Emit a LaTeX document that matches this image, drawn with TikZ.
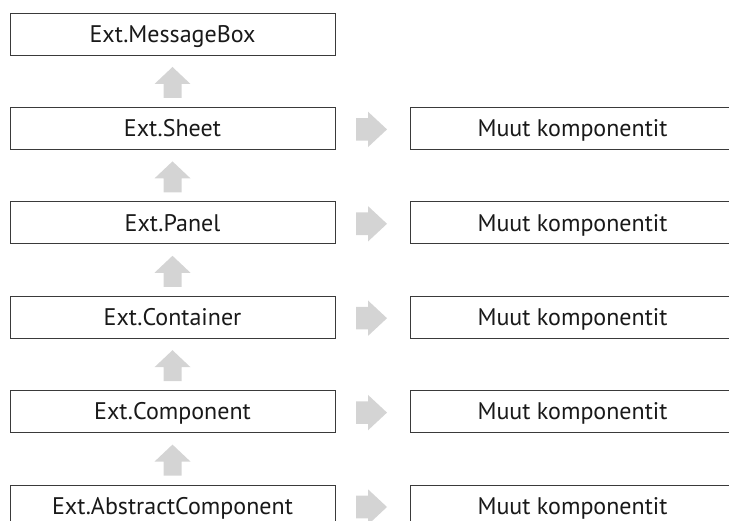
\documentclass[tikz,border=0pt]{standalone}
\usepackage{fontspec}
\setmainfont{PT Sans}
\usetikzlibrary{calc}
\definecolor{arrowgray}{HTML}{D4D4D4}
\definecolor{boxline}{HTML}{3A3A3A}
\begin{document}
\begin{tikzpicture}[x=1pt,y=-1pt,
  compbox/.style={draw=boxline, line width=0.9pt, fill=white,
    minimum width=325pt, minimum height=42pt, inner sep=0pt,
    text height=16.5pt, text depth=0pt,
    text=black!90, font=\fontsize{24}{28}\selectfont},
  uparrow/.style={fill=arrowgray},
  rightarrow/.style={fill=arrowgray}]
\useasboundingbox (0,0) rectangle (729,521);
\clip (0,0) rectangle (729,521);

% inheritance chain
\node[compbox] (mbox)  at (172.5,34)    {Ext.MessageBox};
\node[compbox] (sheet) at (172.5,128.4) {Ext.Sheet};
\node[compbox] (panel) at (172.5,222.8) {Ext.Panel};
\node[compbox] (cont)  at (172.5,317.2) {Ext.Container};
\node[compbox] (comp)  at (172.5,411.6) {Ext.Component};
\node[compbox] (abst)  at (172.5,506)   {Ext.AbstractComponent};

% other components
\node[compbox] (o1) at (572.5,128.4) {Muut komponentit};
\node[compbox] (o2) at (572.5,222.8) {Muut komponentit};
\node[compbox] (o3) at (572.5,317.2) {Muut komponentit};
\node[compbox] (o4) at (572.5,411.6) {Muut komponentit};
\node[compbox] (o5) at (572.5,506)   {Muut komponentit};

% block arrows pointing up the chain
\foreach \a/\b in {mbox/sheet, sheet/panel, panel/cont, cont/comp, comp/abst}{
  \coordinate (m) at ($(\a.south)!0.5!(\b.north)$);
  \fill[uparrow] ($(m)+(0,-14.2)$) -- ($(m)+(18,2.8)$) -- ($(m)+(9,2.8)$)
    -- ($(m)+(9,16.8)$) -- ($(m)+(-9,16.8)$) -- ($(m)+(-9,2.8)$)
    -- ($(m)+(-18,2.8)$) -- cycle;
}

% block arrows pointing to the other components
\foreach \a/\b in {sheet/o1, panel/o2, cont/o3, comp/o4, abst/o5}{
  \coordinate (m) at ($(\a.east)!0.5!(\b.west)+(0,1)$);
  \fill[rightarrow] ($(m)+(14.5,0)$) -- ($(m)+(-4.5,17.7)$) -- ($(m)+(-4.5,11.3)$)
    -- ($(m)+(-16.5,11.3)$) -- ($(m)+(-16.5,-11.3)$) -- ($(m)+(-4.5,-11.3)$)
    -- ($(m)+(-4.5,-17.7)$) -- cycle;
}
\end{tikzpicture}
\end{document}
